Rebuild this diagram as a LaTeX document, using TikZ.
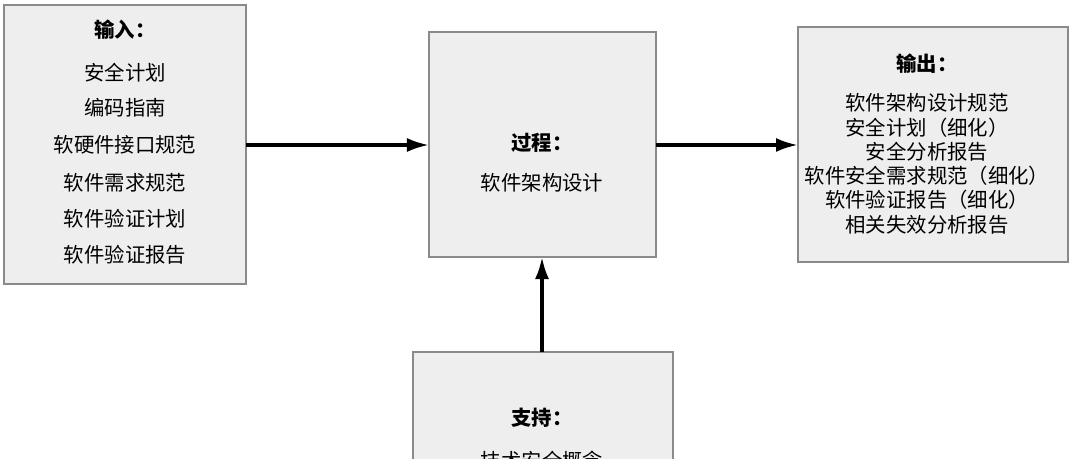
\documentclass[tikz,border=0pt]{standalone}
\usepackage{fontspec}
\setmainfont{Noto Sans CJK SC}
\usetikzlibrary{positioning,arrows.meta}
\definecolor{boxfill}{HTML}{EEEEEE}
\definecolor{boxline}{HTML}{8A8A8A}
\tikzset{
  blk/.style={draw=boxline, fill=boxfill, line width=0.8pt, inner sep=0pt},
  ttl/.style={font=\fontsize{14.5}{17}\selectfont\bfseries},
  itm/.style={font=\fontsize{14.5}{17}\selectfont},
  flow/.style={-{Latex[length=5.5mm,width=3.5mm]}, line width=2.4pt}
}
\begin{document}
\begin{tikzpicture}[x=0.025cm, y=-0.025cm]
  \clip (0,0) rectangle (1080,459);
  \useasboundingbox (0,0) rectangle (1080,459);
  % boxes
  \draw[blk] (4,5) rectangle (246,284);
  \draw[blk] (429,32) rectangle (656,257);
  \draw[blk] (798,27) rectangle (1068,262);
  \draw[blk] (413,352) rectangle (673,480);
  % anchor nodes
  \coordinate (in) at (246,145);
  \coordinate (procL) at (429,145);
  \coordinate (procR) at (656,145);
  \coordinate (out) at (798,145);
  \coordinate (procB) at (542,257);
  \coordinate (sup) at (542,352);
  % input
  \node[ttl] (inT) at (125,30) {输入：};
  \foreach \t/\y [count=\i] in {安全计划/73, 编码指南/108, 软硬件接口规范/145,
      软件需求规范/183, 软件验证计划/219, 软件验证报告/255}
    \node[itm] (in\i) at (125,\y) {\t};
  % process
  \node[ttl] (prT) at (542,143) {过程：};
  \node[itm] (pr1) at (542,183) {软件架构设计};
  % output
  \node[ttl] (ouT) at (927,64) {输出：};
  \foreach \t/\y [count=\i] in {软件架构设计规范/103, 安全计划（细化）/128, 安全分析报告/152,
      软件安全需求规范（细化）/176, 软件验证报告（细化）/200, 相关失效分析报告/225}
    \node[itm] (ou\i) at (927,\y) {\t};
  % support
  \node[ttl] (suT) at (542,418) {支持：};
  \node[itm] (su1) at (542,461) {技术安全概念};
  % connectors
  \draw[flow] (in) -- (procL);
  \draw[flow] (procR) -- (out);
  \draw[flow] (sup) -- (procB);
\end{tikzpicture}
\end{document}
